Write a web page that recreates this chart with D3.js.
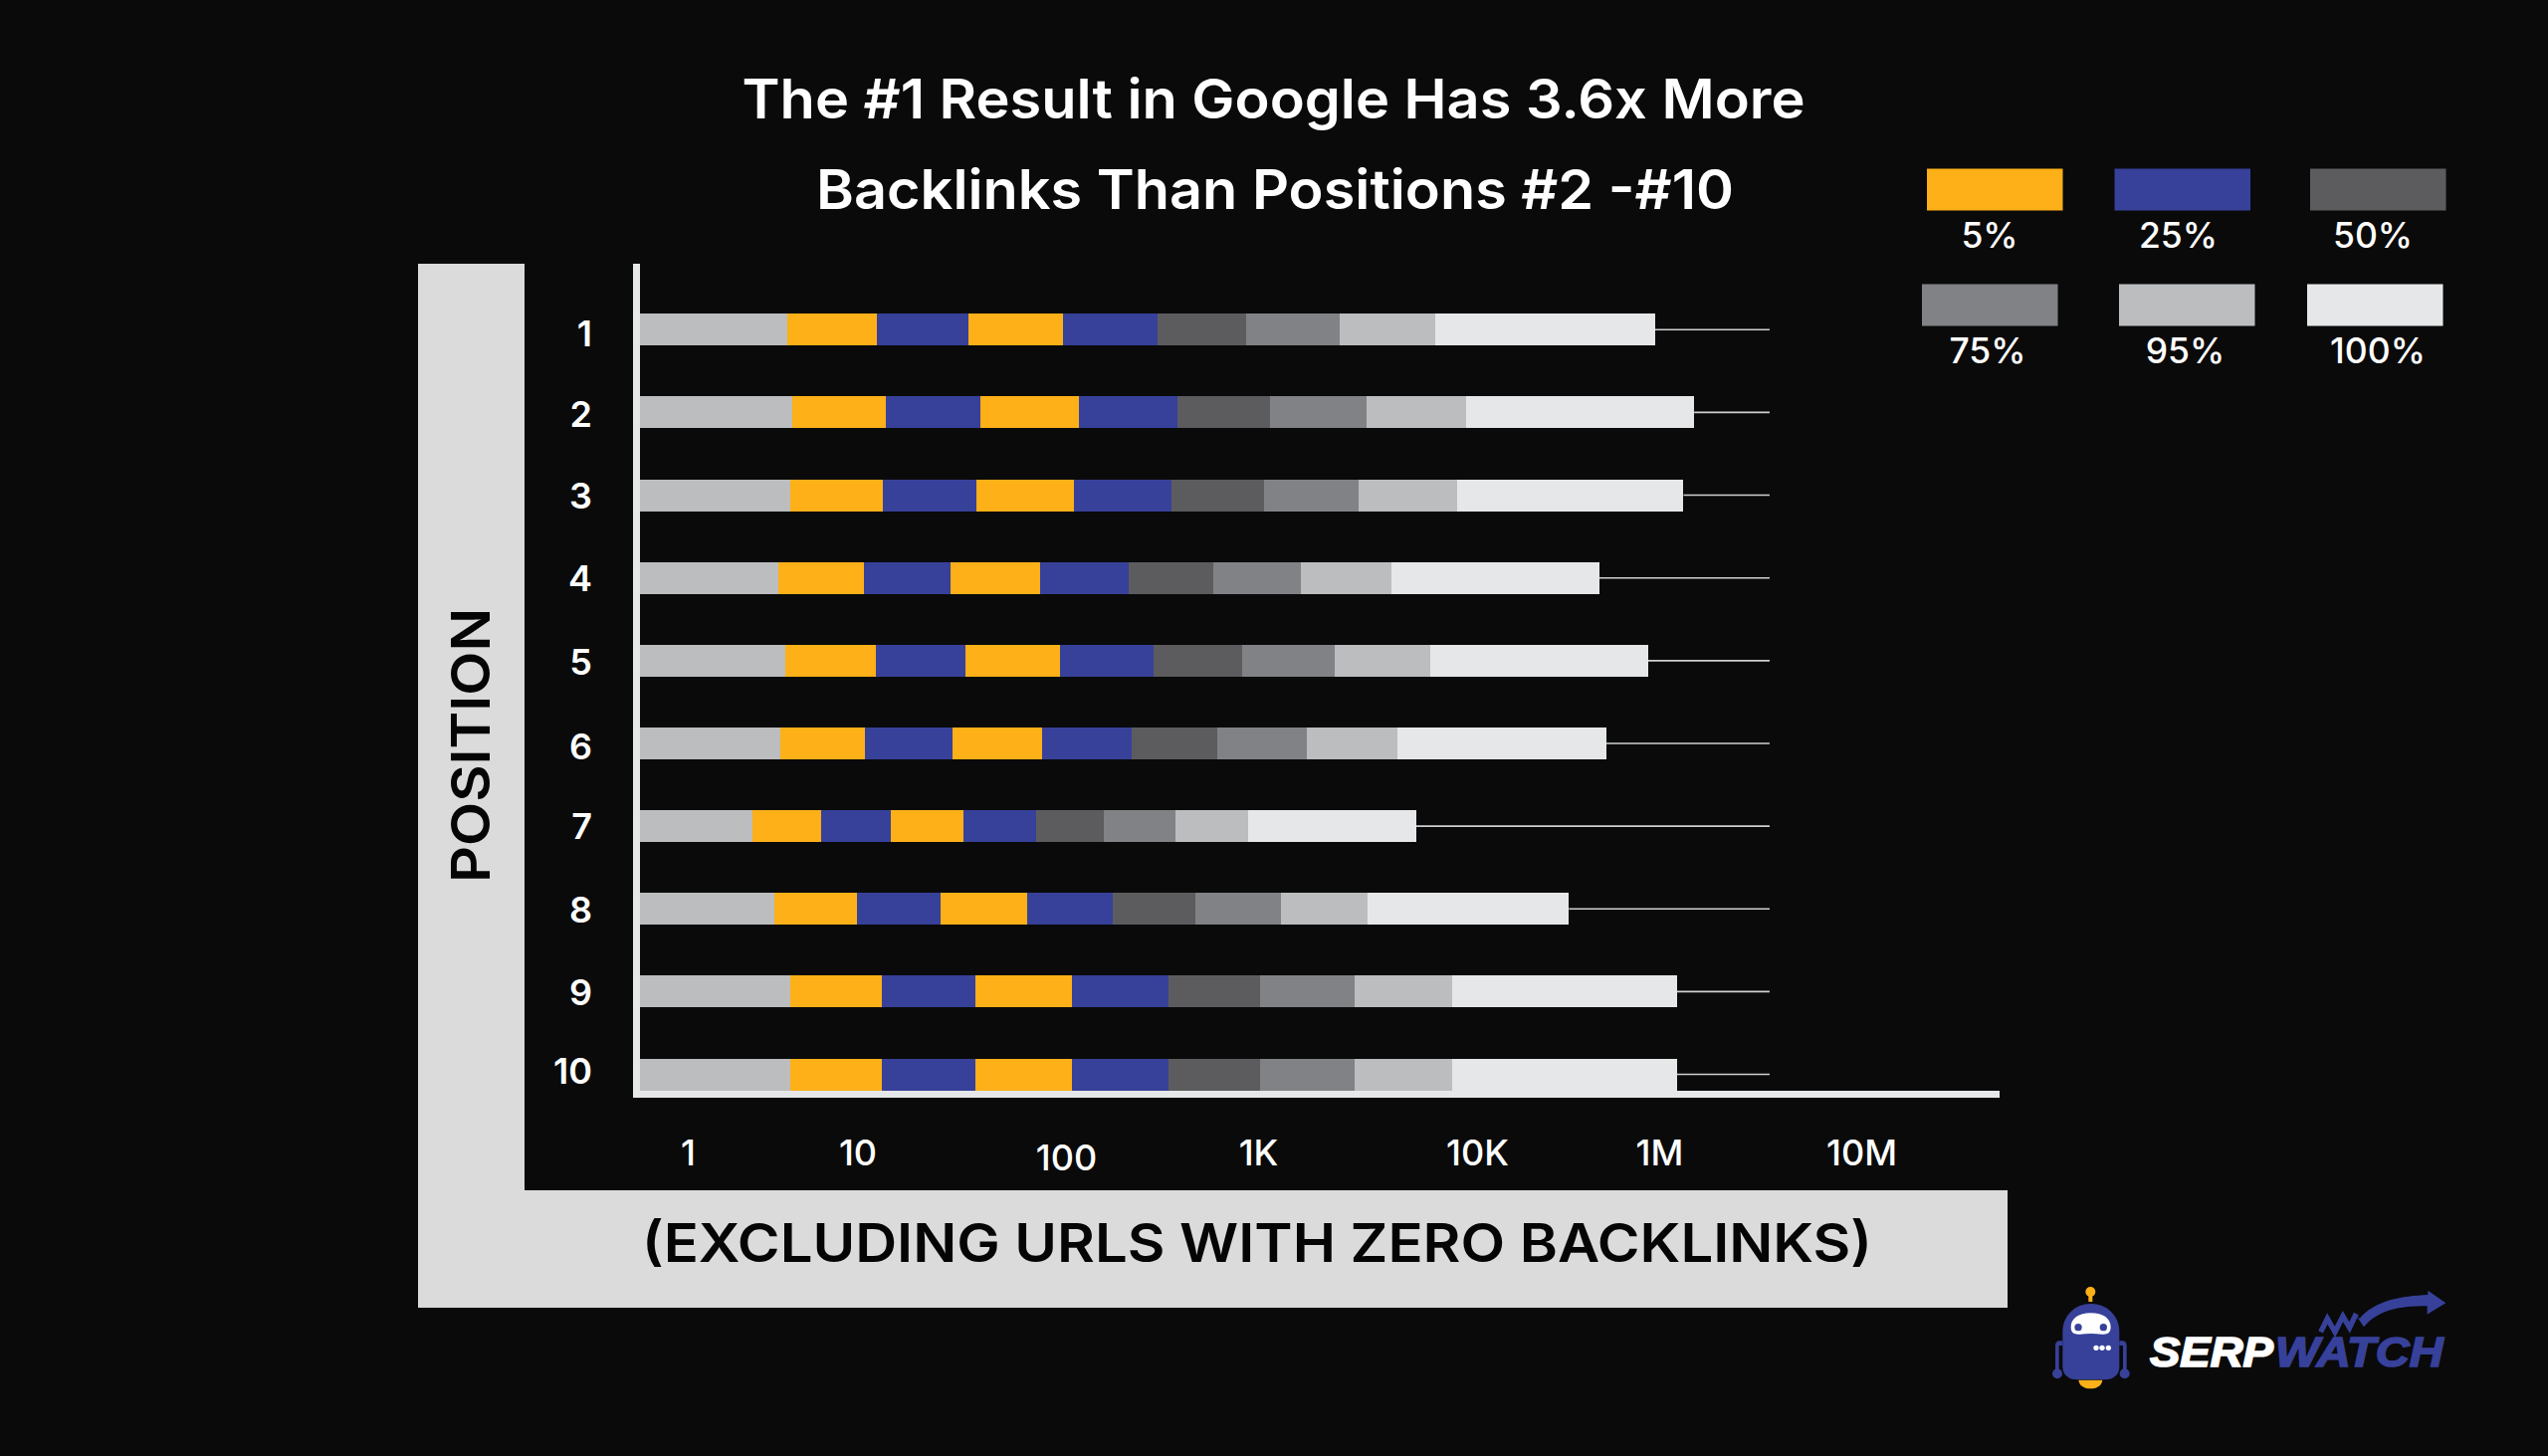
<!DOCTYPE html>
<html lang="en">
<head>
    <meta charset="UTF-8">
    <title>Backlinks by Google position</title>
    <script src="https://d3js.org/d3.v7.min.js"></script>
    <style>
        html, body {
            margin: 0;
            background: #0a0a0a;
        }

        svg {
            display: block;
        }

        text {
            font-family: Inter, "Noto Sans", sans-serif;
        }

        .tick line, .domain {
            display: none;
        }
    </style>
</head>
<body>
    <script>
        const positions = [1, 2, 3, 4, 5, 6, 7, 8, 9, 10];

        // Upper end of each bar segment, in backlinks
        const pos1 = [3.84, 12.4, 34.0, 96.6, 301, 869, 2360, 6470, 893000];
        const pos2 = [4.15, 13.7, 39.0, 117, 379, 1130, 3120, 8930, 1490000];
        const pos3 = [4.03, 13.3, 37.3, 110, 355, 1060, 2890, 8140, 1320000];
        const pos4 = [3.42, 10.7, 27.8, 74.8, 212, 586, 1570, 4070, 219000];
        const pos5 = [3.77, 12.2, 33.1, 93.6, 287, 828, 2240, 6100, 752000];
        const pos6 = [3.49, 10.9, 28.6, 77.2, 221, 615, 1670, 4320, 263000];
        const pos7 = [2.41, 6.14, 14.5, 32.2, 71.7, 158, 372, 891, 5280];
        const pos8 = [3.22, 9.95, 24.9, 65.0, 176, 472, 1270, 3170, 102000];
        const pos9 = [4.01, 13.1, 36.6, 107, 341, 1020, 2770, 7680, 1220000];
        const pos10 = [4.01, 13.1, 36.6, 107, 341, 1020, 2770, 7680, 1220000];
        const whiskerEnd = [3520000, 3520000, 3520000, 3520000, 3520000, 3520000, 3520000, 3520000, 3520000, 3520000];

        const axisStart = 0.5;
        const xTicks = [1, 10, 100, 1000, 10000, 1000000, 10000000];
        const xTickLabels = ["1", "10", "100", "1K", "10K", "1M", "10M"];

        const legendLabels = ["5%", "25%", "50%", "75%", "95%", "100%"];
        const titleLines = ["The #1 Result in Google Has 3.6x More", "Backlinks Than Positions #2 -#10"];

        const rows = [pos1, pos2, pos3, pos4, pos5, pos6, pos7, pos8, pos9, pos10];

        const orange = "#fdb017", blue = "#37419a", dark = "#5c5c5e", mid = "#808285", light = "#bbbdbf", pale = "#e6e7e8";
        const segmentColors = [light, orange, blue, orange, blue, dark, mid, light, pale];
        const legendColors = [orange, blue, dark, mid, light, pale];

        const svg = d3.select("body")
            .append("svg")
            .attr("width", 2560)
            .attr("height", 1463);

        svg.append("rect").attr("width", 2560).attr("height", 1463).attr("fill", "#0a0a0a");

        // Grey L-shaped frame with the axis titles
        svg.append("rect").attr("x", 420).attr("y", 265).attr("width", 107).attr("height", 1049).attr("fill", "#dbdbdb");
        svg.append("rect").attr("x", 420).attr("y", 1196).attr("width", 1597).attr("height", 118).attr("fill", "#dbdbdb");

        svg.append("text")
            .attr("transform", "translate(492,887) rotate(-90)")
            .attr("textLength", 276)
            .attr("lengthAdjust", "spacingAndGlyphs")
            .attr("font-size", 54)
            .attr("font-weight", 600)
            .attr("fill", "#050505")
            .text("POSITION");

        svg.append("text")
            .attr("x", 645)
            .attr("y", 1268)
            .attr("textLength", 1236)
            .attr("lengthAdjust", "spacingAndGlyphs")
            .attr("font-size", 54)
            .attr("font-weight", 600)
            .attr("fill", "#050505")
            .text("(EXCLUDING URLS WITH ZERO BACKLINKS)");

        // Title
        const titleX = [745.5, 820];
        const titleY = [118.5, 209.5];
        const titleLen = [1068, 922];
        svg.selectAll(".title")
            .data(titleLines)
            .enter()
            .append("text")
            .attr("class", "title")
            .attr("x", (d, i) => titleX[i])
            .attr("y", (d, i) => titleY[i])
            .attr("textLength", (d, i) => titleLen[i])
            .attr("lengthAdjust", "spacingAndGlyphs")
            .attr("font-size", 55)
            .attr("font-weight", 600)
            .attr("fill", "#fff")
            .text(d => d);

        // Tick labels are unevenly spaced in the picture, so the log scale is piecewise
        const x = d3.scaleLog()
            .domain([axisStart].concat(xTicks))
            .range([643, 691, 861.5, 1071, 1264, 1484, 1667, 1870]);

        const y = d3.scaleBand()
            .domain(positions)
            .range([289.7, 1121.1])
            .paddingInner(0.615)
            .paddingOuter(0.3075);

        // Whiskers
        svg.append("g")
            .selectAll("line")
            .data(positions)
            .enter()
            .append("line")
            .attr("x1", (d, i) => x(rows[i][8]))
            .attr("x2", (d, i) => x(whiskerEnd[i]))
            .attr("y1", d => y(d) + y.bandwidth() / 2)
            .attr("y2", d => y(d) + y.bandwidth() / 2)
            .attr("stroke", "#cfd0d1")
            .attr("stroke-width", 1.6);

        // Bars
        const bar = svg.append("g")
            .selectAll("g")
            .data(positions)
            .enter()
            .append("g")
            .attr("transform", d => `translate(0,${y(d)})`);

        bar.selectAll("rect")
            .data((d, i) => rows[i].map((v, j) => ({ from: j ? rows[i][j - 1] : axisStart, to: v, color: segmentColors[j] })))
            .enter()
            .append("rect")
            .attr("x", d => x(d.from))
            .attr("width", d => x(d.to) - x(d.from))
            .attr("height", y.bandwidth())
            .attr("fill", d => d.color)
            .attr("shape-rendering", "crispEdges");

        // Axis lines
        svg.append("rect").attr("x", 636).attr("y", 265).attr("width", 7).attr("height", 838).attr("fill", pale);
        svg.append("rect").attr("x", 636).attr("y", 1096).attr("width", 1373).attr("height", 7).attr("fill", pale);

        // Axis labels, hand-placed in the original so each gets a small nudge
        const xAxis = d3.axisBottom(x)
            .tickValues(xTicks)
            .tickFormat((d, i) => xTickLabels[i])
            .tickSize(0);

        svg.append("g")
            .attr("transform", "translate(0,1171)")
            .call(xAxis)
            .selectAll("text")
            .attr("y", 0)
            .attr("dy", (d, i) => i === 2 ? 5 : 0)
            .attr("font-size", 36)
            .attr("font-weight", 500)
            .attr("fill", "#fff");

        const yLabelNudge = [17, 15, 13, 13, 14, 16, 13, 14, 14, 9.5];
        const yAxis = d3.axisLeft(y).tickSize(0);

        svg.append("g")
            .attr("transform", "translate(595,0)")
            .call(yAxis)
            .selectAll("text")
            .attr("x", 0)
            .attr("dy", (d, i) => yLabelNudge[i])
            .attr("font-size", 36)
            .attr("font-weight", 600)
            .attr("fill", "#fff");

        // Legend
        const legendX = [1936, 2124.5, 2321, 1931, 2129, 2318];
        const legendLabelX = [1999, 2188.5, 2384, 1997, 2195.5, 2389];
        const legendY = [169.5, 169.5, 169.5, 285.5, 285.5, 285.5];

        const legend = svg.append("g")
            .selectAll("g")
            .data(legendLabels)
            .enter()
            .append("g");

        legend.append("rect")
            .attr("x", (d, i) => legendX[i])
            .attr("y", (d, i) => legendY[i])
            .attr("width", 136.5)
            .attr("height", 42)
            .attr("fill", (d, i) => legendColors[i]);

        legend.append("text")
            .attr("x", (d, i) => legendLabelX[i])
            .attr("y", (d, i) => legendY[i] + 79.5)
            .attr("text-anchor", "middle")
            .attr("font-size", 35.5)
            .attr("font-weight", 500)
            .attr("fill", "#fff")
            .text(d => d);

        // SerpWatch logo, drawn in 3x units
        const logo = svg.append("g").attr("transform", "translate(2030,1270) scale(0.3333)");

        logo.append("path")
            .attr("d", "M175,350 H247 C245,368 228,376 211,376 C194,376 177,368 175,350 Z")
            .attr("fill", orange);
        logo.append("circle").attr("cx", 211).attr("cy", 84).attr("r", 15).attr("fill", orange);
        logo.append("rect").attr("x", 205).attr("y", 90).attr("width", 12).attr("height", 24).attr("fill", orange);

        logo.append("path")
            .attr("d", "M127,205 C127,155 165,120 212,120 C260,120 298,155 298,205 V310 C298,335 280,349 255,349 H170 C145,349 127,335 127,310 Z")
            .attr("fill", blue);
        logo.append("path")
            .attr("d", "M127,232 H118 C109,232 105,238 105,247 V325 H116 V246 H127 Z M298,232 H307 C316,232 320,238 320,247 V325 H309 V246 H298 Z")
            .attr("fill", blue);
        logo.append("circle").attr("cx", 111).attr("cy", 331).attr("r", 15).attr("fill", blue);
        logo.append("circle").attr("cx", 314).attr("cy", 331).attr("r", 15).attr("fill", blue);

        logo.append("path")
            .attr("d", "M152,190 C152,165 175,148 212,148 C250,148 272,165 272,190 C272,208 262,214 245,212 C225,209 200,209 180,212 C162,214 152,208 152,190 Z")
            .attr("fill", "#fff");
        logo.append("circle").attr("cx", 174).attr("cy", 191).attr("r", 11).attr("fill", blue);
        logo.append("circle").attr("cx", 250).attr("cy", 191).attr("r", 11).attr("fill", blue);
        [228, 246, 265].forEach(cx => {
            logo.append("circle").attr("cx", cx).attr("cy", 253).attr("r", 8).attr("fill", "#fff");
        });

        logo.append("text")
            .attr("x", 390)
            .attr("y", 308)
            .attr("textLength", 372)
            .attr("lengthAdjust", "spacingAndGlyphs")
            .style("font-family", "'Liberation Sans', sans-serif")
            .attr("font-size", 130)
            .attr("font-weight", 700)
            .attr("font-style", "italic")
            .attr("stroke", "#fff")
            .attr("stroke-width", 5)
            .attr("fill", "#fff")
            .text("SERP");

        logo.append("text")
            .attr("x", 768)
            .attr("y", 308)
            .attr("textLength", 506)
            .attr("lengthAdjust", "spacingAndGlyphs")
            .style("font-family", "'Liberation Sans', sans-serif")
            .attr("font-size", 130)
            .attr("font-weight", 700)
            .attr("font-style", "italic")
            .attr("stroke", blue)
            .attr("stroke-width", 5)
            .attr("fill", blue)
            .text("WATCH");

        logo.append("path")
            .attr("d", "M905,205 L925,165 L948,205 L972,158 L992,192 L1012,150")
            .attr("fill", "none")
            .attr("stroke", blue)
            .attr("stroke-width", 16);
        logo.append("path")
            .attr("d", "M1008,150 L1022,165 C1070,108 1150,97 1228,93 L1228,80 L1282,118 L1226,152 L1226,127 C1140,127 1080,138 1035,190 Z")
            .attr("fill", blue);
    </script>
</body>
</html>
